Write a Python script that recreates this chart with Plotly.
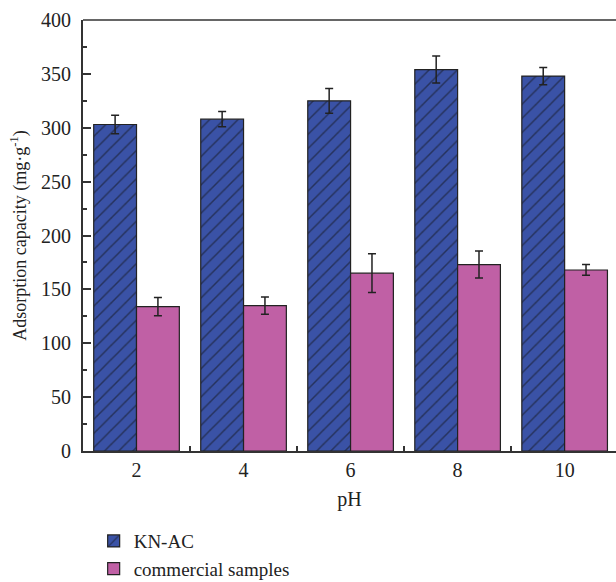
import plotly.graph_objects as go

# pH values and adsorption capacity (mg/g)
ph_labels = ["2", "4", "6", "8", "10"]
kn_ac = [303, 308, 325, 354, 348]
kn_ac_err = [8.5, 7, 11.5, 12.5, 8]
commercial = [134, 135, 165, 173, 168]
commercial_err = [8.5, 8, 18, 12.5, 5]

FONT = "Liberation Serif"
AXIS_COLOR = "#333333"
BLUE = "#3a52a6"
PINK = "#c060a5"

fig = go.Figure()

fig.add_trace(go.Bar(
    x=ph_labels, y=kn_ac, name="KN-AC",
    marker=dict(color=BLUE, line=dict(color="#222222", width=1.2),
                pattern=dict(shape="/", fgcolor="#111111", size=10, solidity=0.15)),
    error_y=dict(type="data", array=kn_ac_err, color="#222222", thickness=1.5, width=4),
))
fig.add_trace(go.Bar(
    x=ph_labels, y=commercial, name="commercial samples",
    marker=dict(color=PINK, line=dict(color="#222222", width=1.2)),
    error_y=dict(type="data", array=commercial_err, color="#222222", thickness=1.5, width=4),
))

fig.update_layout(
    width=616, height=582,
    margin=dict(l=83, r=0, t=20, b=131, autoexpand=False),
    paper_bgcolor="white", plot_bgcolor="white",
    barmode="group", bargap=0.2, bargroupgap=0,
    font=dict(family=FONT, size=20, color="#222222"),
    showlegend=True,
    legend=dict(x=0.02, xanchor="left", y=-0.165, yanchor="top",
                font=dict(family=FONT, size=19, color="#222222"),
                tracegroupgap=0, itemwidth=30, bgcolor="rgba(0,0,0,0)"),
    xaxis=dict(
        type="category", range=[-0.5, 4.48], automargin=False,
        showline=True, linecolor=AXIS_COLOR, linewidth=2,
        ticks="inside", tickson="boundaries", ticklen=5, tickcolor=AXIS_COLOR, tickwidth=1.5,
        showgrid=False, zeroline=False,
        title=dict(text="pH", font=dict(family=FONT, size=20), standoff=12),
        tickfont=dict(family=FONT, size=20),
    ),
    yaxis=dict(
        range=[0, 400], dtick=50, automargin=False,
        showline=True, linecolor=AXIS_COLOR, linewidth=2,
        ticks="inside", ticklen=8, tickcolor=AXIS_COLOR, tickwidth=1.5,
        minor=dict(dtick=25, ticks="inside", ticklen=4, tickcolor=AXIS_COLOR, tickwidth=1.5),
        showgrid=False, zeroline=False,
        ticklabelstandoff=6,
        title=dict(text="Adsorption capacity (mg·g<sup>-1</sup>)", font=dict(family=FONT, size=18), standoff=10),
        tickfont=dict(family=FONT, size=20),
    ),
    shapes=[dict(type="line", xref="paper", yref="paper", x0=0, x1=1, y0=1, y1=1,
                 line=dict(color=AXIS_COLOR, width=1.5))],
)

fig.write_html("out.html")
